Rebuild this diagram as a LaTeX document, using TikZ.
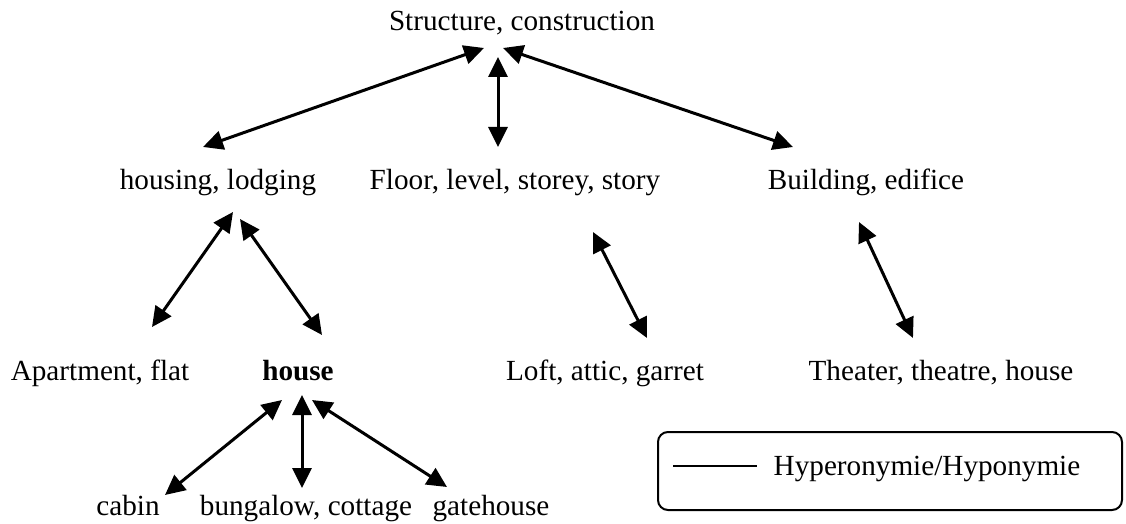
\documentclass[tikz,border=0pt]{standalone}
\usepackage{fontspec}
\setmainfont{Liberation Serif}
\usetikzlibrary{arrows.meta}
\begin{document}
\begin{tikzpicture}[x=0.5pt,y=-0.5pt,
  lbl/.style={anchor=base,inner sep=0pt,font=\fontsize{14.6}{17}\selectfont},
  rel/.style={line width=1.5pt,{Triangle[length=10pt,width=9.5pt]}-{Triangle[length=10pt,width=9.5pt]}},
  legbox/.style={draw,line width=1pt,rounded corners=5pt}]
\useasboundingbox (0,0) rectangle (1126,524);
% nodes
\node[lbl] (struct) at (522,31) {Structure, construction};
\node[lbl] (housing) at (218,190) {housing, lodging};
\node[lbl] (floor) at (515,190) {Floor, level, storey, story};
\node[lbl] (build) at (866,190) {Building, edifice};
\node[lbl] (apart) at (100,380) {Apartment, flat};
\node[lbl,font=\fontsize{14.6}{17}\selectfont\bfseries] (house) at (298,380) {house};
\node[lbl] (loft) at (605,380) {Loft, attic, garret};
\node[lbl] (theater) at (941,380) {Theater, theatre, house};
\node[lbl] (cabin) at (128,515) {cabin};
\node[lbl] (bung) at (306,515) {bungalow, cottage};
\node[lbl] (gate) at (491,515) {gatehouse};
% endpoints
\coordinate (s1) at (484,48);
\coordinate (s2) at (498,57);
\coordinate (s3) at (503,48);
\coordinate (h0) at (203,147);
\coordinate (f0) at (498,147);
\coordinate (b0) at (793,147);
\coordinate (ha) at (233,212);
\coordinate (hb) at (240,219);
\coordinate (a0) at (152,327);
\coordinate (hs0) at (322,335);
\coordinate (fl) at (593,232);
\coordinate (l0) at (647,338);
\coordinate (bt) at (859,222);
\coordinate (t0) at (913,338);
\coordinate (hc) at (282,400);
\coordinate (hm) at (302,395);
\coordinate (hg) at (312,400);
\coordinate (c0) at (165,495);
\coordinate (bu0) at (302,488);
\coordinate (g0) at (447,487);
% connectors
\draw[rel] (s1) -- (h0);
\draw[rel] (s2) -- (f0);
\draw[rel] (s3) -- (b0);
\draw[rel] (ha) -- (a0);
\draw[rel] (hb) -- (hs0);
\draw[rel] (fl) -- (l0);
\draw[rel] (bt) -- (t0);
\draw[rel] (hc) -- (c0);
\draw[rel] (hm) -- (bu0);
\draw[rel] (hg) -- (g0);
% legend
\node[legbox,minimum width=232pt,minimum height=39pt,inner sep=0pt] (legend) at (890,471) {};
\coordinate (la) at (673,466);
\coordinate (lb) at (757,466);
\draw[line width=1pt] (la) -- (lb);
\node[lbl] (legtxt) at (927,475) {Hyperonymie/Hyponymie};
\end{tikzpicture}
\end{document}
